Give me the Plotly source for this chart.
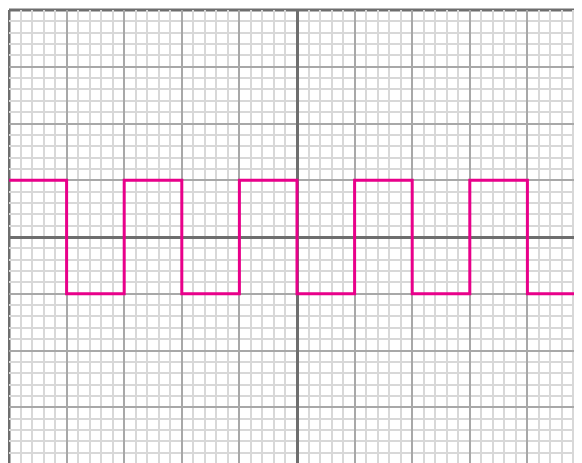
import plotly.graph_objects as go

# Square wave: time (divisions) and level (divisions), stepped
time_div = [-5, -4, -3, -2, -1, 0, 1, 2, 3, 4, 5]
level_div = [1, -1, 1, -1, 1, -1, 1, -1, 1, -1, -1]

x_ticks = [-5, -4, -3, -2, -1, 0, 1, 2, 3, 4, 5]
y_ticks = [-4, -3, -2, -1, 0, 1, 2, 3, 4]

fig = go.Figure()
fig.add_trace(go.Scatter(
    x=time_div, y=level_div, mode="lines",
    line=dict(color="#e8008a", width=3, shape="hv"),
    hoverinfo="skip", showlegend=False,
))

axis_common = dict(
    showticklabels=False, ticks="", showline=False,
    showgrid=True, gridcolor="#a8a8a8", gridwidth=2,
    zeroline=True, zerolinecolor="#6e6e6e", zerolinewidth=3,
    minor=dict(showgrid=True, gridcolor="#d8d8d8", gridwidth=1.5),
    fixedrange=True,
)

fig.update_xaxes(range=[-5, 5], tickvals=x_ticks, **axis_common)
fig.update_xaxes(minor_dtick=0.2, minor_tick0=0)
fig.update_yaxes(range=[-4, 4], tickvals=y_ticks, **axis_common)
fig.update_yaxes(minor_dtick=0.2, minor_tick0=0)

# left and top border lines
fig.add_shape(type="line", x0=0, x1=0, y0=0, y1=1, xref="paper", yref="paper",
              line=dict(color="#6e6e6e", width=3), layer="between")
fig.add_shape(type="line", x0=0, x1=1, y0=1, y1=1, xref="paper", yref="paper",
              line=dict(color="#6e6e6e", width=3), layer="between")

fig.update_layout(
    width=582, height=463,
    margin=dict(l=1, r=5, t=2, b=7),
    paper_bgcolor="white", plot_bgcolor="white",
    showlegend=False,
)

fig.write_html("out.html", config={"displayModeBar": False})
